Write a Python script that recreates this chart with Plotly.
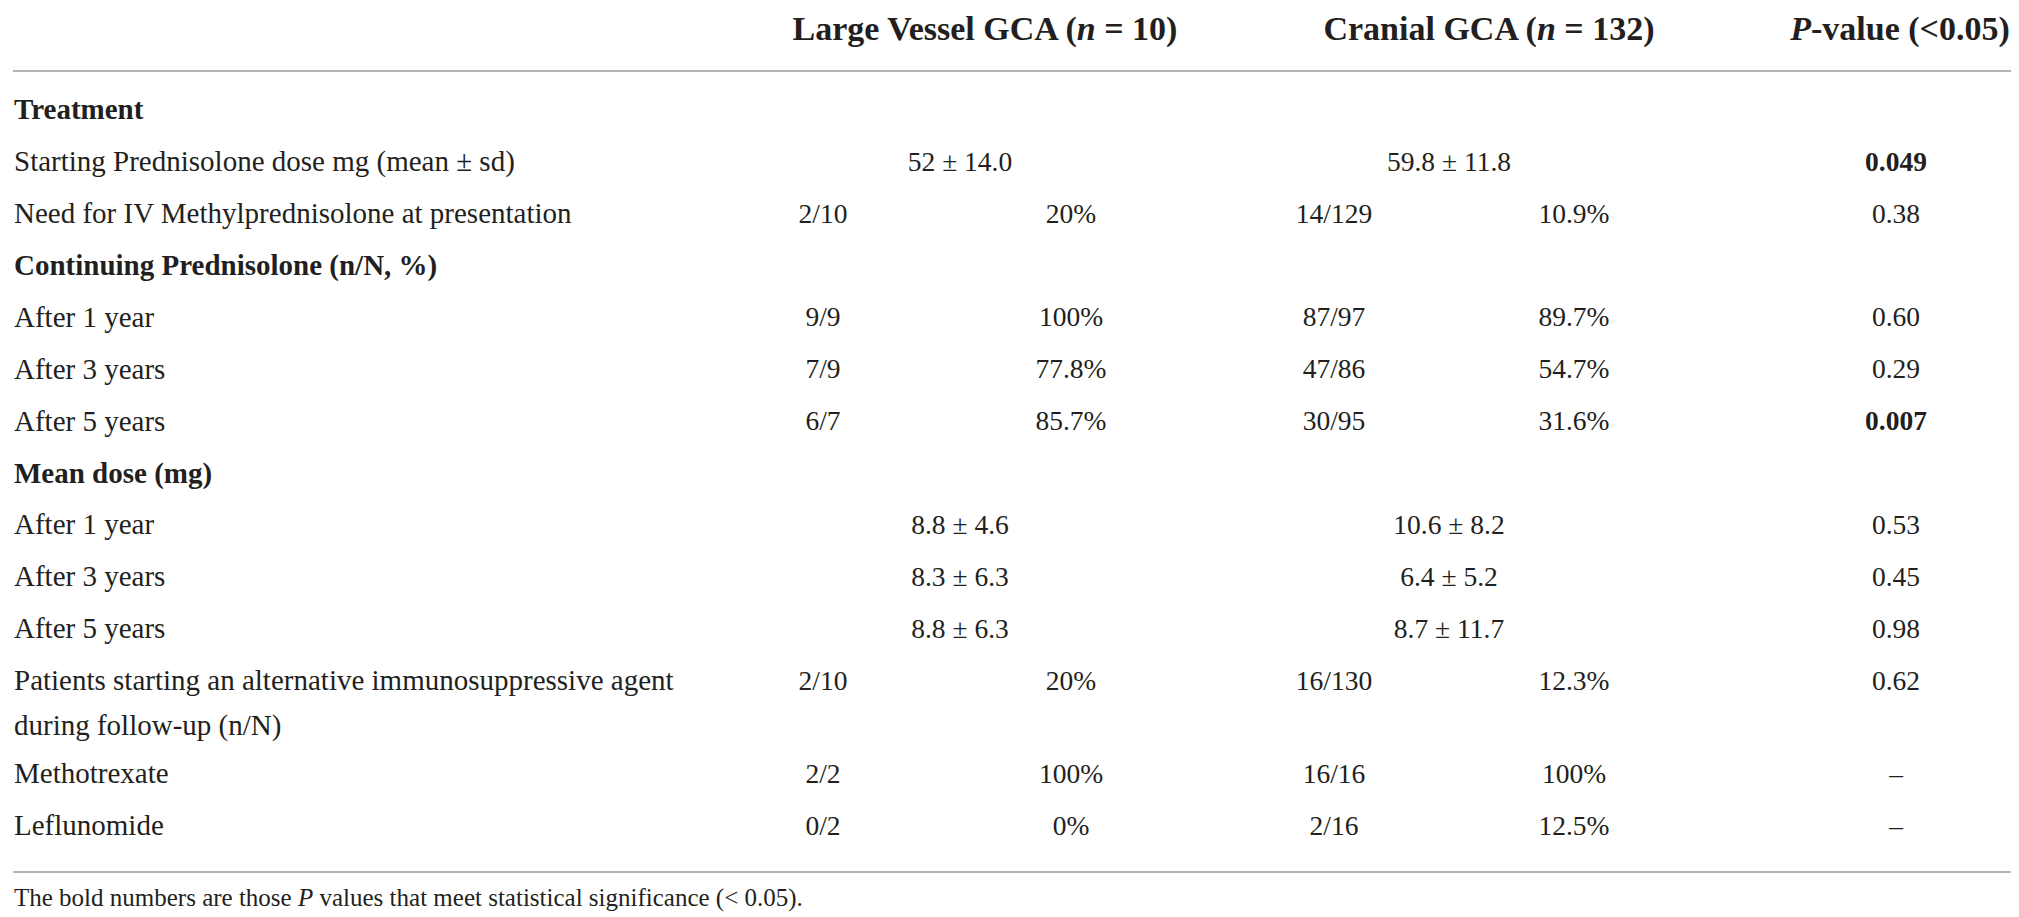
import plotly.graph_objects as go

# table content
header_labels = ["<b>Large Vessel GCA (<i>n</i> = 10)</b>",
                 "<b>Cranial GCA (<i>n</i> = 132)</b>",
                 "<b><i>P</i>-value (<0.05)</b>"]

row_labels = [
    "Treatment",
    "Starting Prednisolone dose mg (mean ± sd)",
    "Need for IV Methylprednisolone at presentation",
    "Continuing Prednisolone (n/N, %)",
    "After 1 year",
    "After 3 years",
    "After 5 years",
    "Mean dose (mg)",
    "After 1 year",
    "After 3 years",
    "After 5 years",
    "Patients starting an alternative immunosuppressive agent<br>during follow-up (n/N)",
    "Methotrexate",
    "Leflunomide",
]
section_rows = [True, False, False, True, False, False, False,
                True, False, False, False, False, False, False]

lv_count = ["", "", "2/10", "", "9/9", "7/9", "6/7", "", "", "", "", "2/10", "2/2", "0/2"]
lv_pct = ["", "", "20%", "", "100%", "77.8%", "85.7%", "", "", "", "", "20%", "100%", "0%"]
lv_mean = ["", "52 ± 14.0", "", "", "", "", "", "", "8.8 ± 4.6", "8.3 ± 6.3", "8.8 ± 6.3", "", "", ""]

cr_count = ["", "", "14/129", "", "87/97", "47/86", "30/95", "", "", "", "", "16/130", "16/16", "2/16"]
cr_pct = ["", "", "10.9%", "", "89.7%", "54.7%", "31.6%", "", "", "", "", "12.3%", "100%", "12.5%"]
cr_mean = ["", "59.8 ± 11.8", "", "", "", "", "", "", "10.6 ± 8.2", "6.4 ± 5.2", "8.7 ± 11.7", "", "", ""]

p_values = ["", "0.049", "0.38", "", "0.60", "0.29", "0.007", "", "0.53", "0.45", "0.98", "0.62", "–", "–"]
p_significant = [False, True, False, False, False, False, True,
                 False, False, False, False, False, False, False]

footnote = "The bold numbers are those <i>P</i> values that meet statistical significance (< 0.05)."

# layout (pixel space)
W, H = 2019, 917
FONT = "Liberation Serif"
INK = "#231f20"
RULE = "#9b9b9b"
LABEL_SIZE = 29
VALUE_SIZE = 27.5
HEAD_SIZE = 34

x_label = 6
x_lv_count, x_lv_pct, x_lv_mean = 815, 1063, 952
x_cr_count, x_cr_pct, x_cr_mean = 1326, 1566, 1441
x_p = 1888
x_head = [977, 1481, 1892]
y_head = 23
y_first = 104
row_pitch = 51.9
line_pitch = 45
extra_pitch = 41

# vertical position of each row (first line) and of every label line
row_y = []
lab_text, lab_y, lab_bold = [], [], []
y = y_first
for lab, sec in zip(row_labels, section_rows):
    row_y.append(y)
    parts = lab.split("<br>")
    for k, part in enumerate(parts):
        lab_text.append(part)
        lab_y.append(y + k * line_pitch)
        lab_bold.append(sec)
    y += row_pitch + (len(parts) - 1) * extra_pitch

fig = go.Figure()


def add_col(xpos, texts, ys, pos="middle center", bold=None, size=VALUE_SIZE):
    out_x, out_y, out_t = [], [], []
    for i, (t, yy) in enumerate(zip(texts, ys)):
        if not t:
            continue
        if bold is not None and bold[i]:
            t = "<b>" + t + "</b>"
        out_x.append(xpos)
        out_y.append(yy)
        out_t.append(t)
    fig.add_trace(go.Scatter(
        x=out_x, y=out_y, text=out_t, mode="text", textposition=pos,
        textfont=dict(family=FONT, size=size, color=INK),
        hoverinfo="skip", showlegend=False,
    ))


# row labels
add_col(x_label, lab_text, lab_y, pos="middle right", bold=lab_bold, size=LABEL_SIZE)

add_col(x_lv_count, lv_count, row_y)
add_col(x_lv_pct, lv_pct, row_y)
add_col(x_lv_mean, lv_mean, row_y)
add_col(x_cr_count, cr_count, row_y)
add_col(x_cr_pct, cr_pct, row_y)
add_col(x_cr_mean, cr_mean, row_y)
add_col(x_p, p_values, row_y, bold=p_significant)

# header
fig.add_trace(go.Scatter(
    x=x_head, y=[y_head] * 3, text=header_labels, mode="text",
    textposition="middle center",
    textfont=dict(family=FONT, size=HEAD_SIZE, color=INK),
    hoverinfo="skip", showlegend=False,
))

# footnote
fig.add_trace(go.Scatter(
    x=[x_label], y=[892], text=[footnote], mode="text",
    textposition="middle right",
    textfont=dict(family=FONT, size=25, color=INK),
    hoverinfo="skip", showlegend=False,
))

# rules
for yy in (63, 864):
    fig.add_shape(type="line", x0=5, x1=2013, y0=yy, y1=yy,
                  line=dict(color=RULE, width=1.5), xref="x", yref="y")

fig.update_layout(
    width=W, height=H,
    margin=dict(l=0, r=0, t=0, b=0),
    paper_bgcolor="white", plot_bgcolor="white",
    xaxis=dict(range=[0, W], visible=False, fixedrange=True),
    yaxis=dict(range=[H, 0], visible=False, fixedrange=True),
)

fig.write_html("out.html")
